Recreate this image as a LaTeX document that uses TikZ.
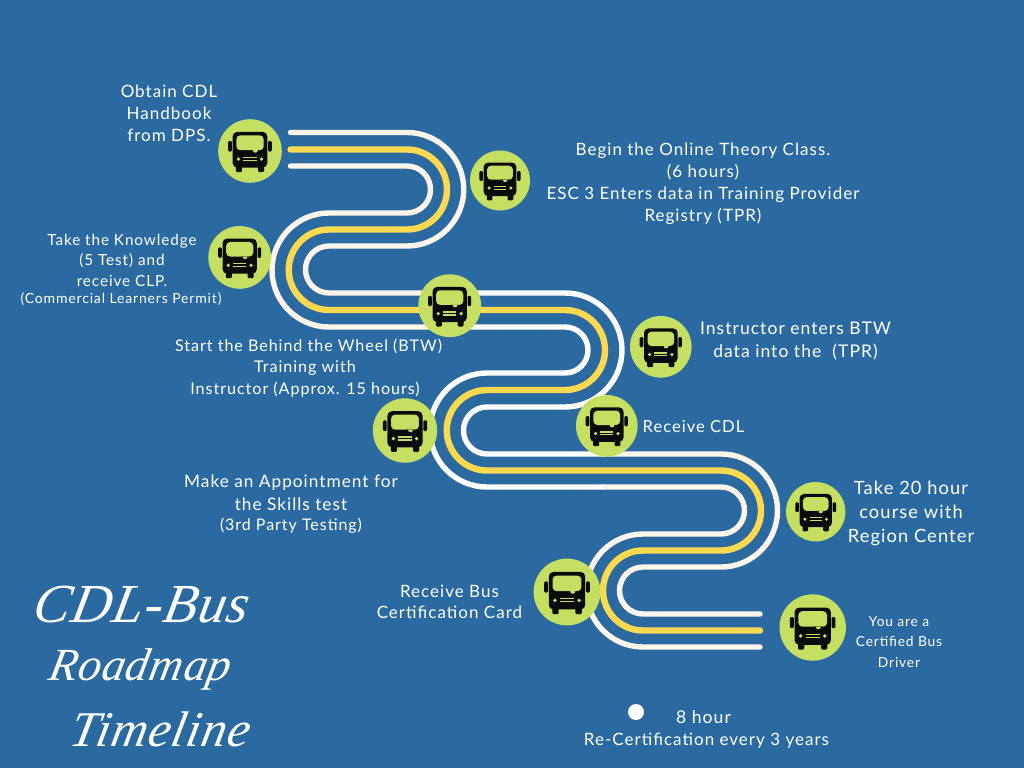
\documentclass[tikz,border=0pt]{standalone}
\usepackage{fontspec}
\setmainfont[LetterSpace=6]{Lato}
\newfontfamily\titlefont[Scale=1,LetterSpace=2,FakeSlant=0.2]{Liberation Serif Italic}
\definecolor{bgblue}{HTML}{2A6AA0}
\definecolor{stopgreen}{HTML}{C5DF63}
\definecolor{laneyellow}{HTML}{FDD94F}
\definecolor{lanecream}{HTML}{FDF5EA}
\definecolor{buskey}{HTML}{0B0B0B}
\tikzset{
  lane/.style={line width=5.4pt,line cap=round,line join=round},
  creamlane/.style={lane,draw=lanecream},
  whitelane/.style={lane,draw=white},
  yellowlane/.style={lane,line width=6.4pt,draw=laneyellow},
  stopdot/.style={circle,fill=stopgreen,inner sep=0pt},
  label/.style={text=white,align=center,inner sep=0pt},
  pics/busicon/.style={code={
    \fill[buskey,rounded corners=1.2pt] (-21.7,-10) rectangle (-18,0.5);
    \fill[buskey,rounded corners=1.2pt] (18,-10) rectangle (21.7,0.5);
    \fill[buskey,rounded corners=1.2pt] (-14,14) rectangle (-8,21);
    \fill[buskey,rounded corners=1.2pt] (8,14) rectangle (14,21);
    \fill[buskey,rounded corners=4.5pt] (-17.3,-19) rectangle (17.3,16.5);
    \fill[stopgreen,rounded corners=4pt] (-13.7,-15.6) rectangle (13.7,-0.8);
    \fill[buskey] (1.2,-0.8) arc[start angle=180,end angle=0,radius=4.2] -- cycle;
    \fill[stopgreen] (2.9,-0.8) arc[start angle=180,end angle=0,radius=2.5] -- cycle;
    \fill[stopgreen] (-11.5,8) circle[radius=1.8];
    \fill[stopgreen] (11.5,8) circle[radius=1.8];
    \fill[stopgreen] (-6.5,5.8) rectangle (6.5,6.9);
    \fill[stopgreen] (-6.5,8.8) rectangle (6.5,9.9);
  }}
}
\newcommand{\busstop}[4]{%
  \node[stopdot,minimum size=#4*2pt] (#1) at (#2,#3) {};
  \pic[xscale=#4/31.7,yscale=-#4/31.7] at (#1) {busicon};
}
\begin{document}
\begin{tikzpicture}[x=1pt,y=1pt,yscale=-1]
\useasboundingbox[fill=bgblue] (0,0) rectangle (1024,768);

% --- road: outer/inner lanes swap at every bend
\draw[creamlane] (290.5,132.5) -- (407,132.5) arc[start angle=-90,end angle=90,radius=56.75] -- (329,246) arc[start angle=270,end angle=90,radius=23.5] -- (450,293);
\draw[whitelane] (450,293) -- (565,293) arc[start angle=-90,end angle=90,radius=57] -- (487,407) arc[start angle=270,end angle=90,radius=23.5] -- (603,454);
\draw[creamlane] (603,454) -- (721,454) arc[start angle=-90,end angle=90,radius=56.5] -- (643,567) arc[start angle=270,end angle=90,radius=23.5] -- (760,614);

\draw[yellowlane] (290.5,149.5) -- (407,149.5) arc[start angle=-90,end angle=90,radius=40] -- (329,229.5) arc[start angle=270,end angle=90,radius=40.25] -- (565,310) arc[start angle=-90,end angle=90,radius=40] -- (487,390) arc[start angle=270,end angle=90,radius=40.25] -- (721,470.5) arc[start angle=-90,end angle=90,radius=40] -- (643,550.5) arc[start angle=270,end angle=90,radius=40] -- (760,630.5);

\draw[creamlane] (290.5,166) -- (407,166) arc[start angle=-90,end angle=90,radius=23.5] -- (329,213) arc[start angle=270,end angle=90,radius=57] -- (450,327);
\draw[whitelane] (450,327) -- (565,327) arc[start angle=-90,end angle=90,radius=23] -- (487,373) arc[start angle=270,end angle=90,radius=57] -- (603,487);
\draw[creamlane] (603,487) -- (721,487) arc[start angle=-90,end angle=90,radius=23.5] -- (643,534) arc[start angle=270,end angle=90,radius=56.5] -- (760,647);

% --- stops
\busstop{s1}{250}{151}{31.8}
\busstop{s2}{500}{180.5}{30}
\busstop{s3}{239.7}{257.4}{31.4}
\busstop{s4}{449.7}{305.7}{31.4}
\busstop{s5}{660.8}{346.8}{30.8}
\busstop{s6}{405}{430.5}{32.2}
\busstop{s7}{606.8}{425.8}{30.8}
\busstop{s8}{815.7}{511.7}{29.7}
\busstop{s9}{567}{592}{33.4}
\busstop{s10}{812.7}{627.5}{33.2}

% --- labels
\node[label,font=\fontsize{17}{22}\selectfont] (t1) at (169,113.5) {Obtain CDL\\Handbook\\from DPS.};
\node[label,font=\fontsize{17}{22}\selectfont] (t2) at (703,184) {Begin the Online Theory Class.\\(6 hours)\\ESC 3 Enters data in Training Provider\\Registry (TPR)};
\node[label,font=\fontsize{15.3}{20.5}\selectfont] (t3) at (122,260) {Take the Knowledge\\(5 Test) and\\receive CLP.};
\node[label,font=\fontsize{14}{16}\selectfont] (t3b) at (121,299) {(Commercial Learners Permit)};
\node[label,font=\fontsize{16.1}{21.5}\selectfont] (t4) at (305,368) {\hspace*{7pt}Start the Behind the Wheel (BTW)\\Training with\\Instructor (Approx. 15 hours)};
\node[label,font=\fontsize{17.5}{23}\selectfont] (t5) at (795.5,341.5) {Instructor enters BTW\\data into the\ \ (TPR)};
\node[label,font=\fontsize{16.6}{20}\selectfont] (t6) at (693.5,427) {Receive CDL};
\node[label,font=\fontsize{17.2}{23}\selectfont] (t7) at (291,492.5) {Make an Appointment for\\the Skills test};
\node[label,font=\fontsize{16}{18}\selectfont] (t7b) at (291,526) {(3rd Party Testing)};
\node[label,font=\fontsize{18.3}{24}\selectfont] (t8) at (911,513) {Take 20 hour\\course with\\Region Center};
\node[label,font=\fontsize{17}{21}\selectfont] (t9) at (449.5,601.5) {Receive Bus\\Certification Card};
\node[label,font=\fontsize{13.8}{20.5}\selectfont] (t10) at (899,642) {You are a\\Certified Bus\\Driver};
\node[circle,fill=white,inner sep=0pt,minimum size=16pt] (dot) at (636,712) {};
\node[label,font=\fontsize{17.6}{22}\selectfont] (t11) at (703.5,717) {8 hour};
\node[label,font=\fontsize{17}{20}\selectfont] (t12) at (706.5,741) {Re-Certification every 3 years};

% --- title
\node[label,font=\titlefont\fontsize{55}{60}\selectfont] (h1) at (139,605) {CDL-Bus};
\node[label,font=\titlefont\fontsize{46}{60}\selectfont] (h2) at (138,669) {Roadmap};
\node[label,font=\titlefont\fontsize{50}{60}\selectfont] (h3) at (158,729) {Timeline};
\end{tikzpicture}
\end{document}
